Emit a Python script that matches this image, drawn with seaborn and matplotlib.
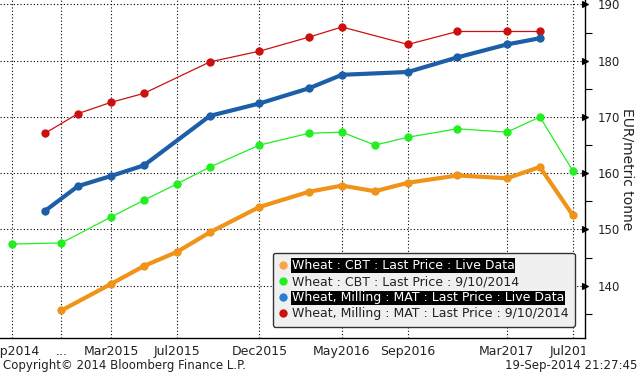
import matplotlib
matplotlib.use("Agg")
import matplotlib.pyplot as plt
import seaborn as sns
import pandas as pd
from matplotlib.lines import Line2D
from matplotlib.ticker import FixedLocator, MultipleLocator
from matplotlib.transforms import Bbox, TransformedBbox

# Contract months for each exchange
cbt_months = ["Sep2014", "Dec2014", "Mar2015", "May2015", "Jul2015", "Sep2015", "Dec2015",
              "Mar2016", "May2016", "Jul2016", "Sep2016", "Dec2016", "Mar2017", "May2017", "Jul2017"]
mat_months = ["Nov2014", "Jan2015", "Mar2015", "May2015", "Sep2015", "Dec2015",
              "Mar2016", "May2016", "Sep2016", "Dec2016", "Mar2017", "May2017"]

# EUR/metric tonne
cbt_live = [135.6, 140.3, 143.5, 146.0, 149.5, 154.0, 156.7, 157.8, 156.8, 158.3, 159.6, 159.1, 161.1, 152.5]
cbt_0910 = [147.4, 147.6, 152.2, 155.2, 158.1, 161.1, 165.0, 167.1, 167.3, 165.0, 166.4, 167.9, 167.3, 170.0, 160.4]
mat_live = [153.3, 157.7, 159.5, 161.4, 170.2, 172.4, 175.1, 177.5, 178.0, 180.6, 182.9, 184.0]
mat_0910 = [167.1, 170.6, 172.6, 174.2, 179.8, 181.7, 184.2, 186.0, 182.9, 185.2, 185.2, 185.2]

tick_months = ["Sep2014", "Dec2014", "Mar2015", "Jul2015", "Dec2015", "May2016", "Sep2016", "Mar2017", "Jul2017"]
tick_labels = ["Sep2014", "...", "Mar2015", "Jul2015", "Dec2015", "May2016", "Sep2016", "Mar2017", "Jul2017"]

series_names = ["Wheat : CBT : Last Price : Live Data",
                "Wheat : CBT : Last Price : 9/10/2014",
                "Wheat, Milling : MAT : Last Price : Live Data",
                "Wheat, Milling : MAT : Last Price : 9/10/2014"]


def month_index(labels):
    d = pd.to_datetime(pd.Series(labels), format="%b%Y")
    return ((d.dt.year - 2014) * 12 + d.dt.month - 9).tolist()


sns.set_style("white")
plt.rcParams["font.family"] = ["DejaVu Sans"]

fig = plt.figure(figsize=(6.4, 3.74), dpi=100)
ax = fig.add_axes([0.0, 0.0963, 0.914, 0.9037])

sns.lineplot(x=month_index(mat_months), y=mat_0910, ax=ax, color="#cc1010", linewidth=0.9,
             marker="o", markersize=6, markeredgewidth=0)
sns.lineplot(x=month_index(cbt_months), y=cbt_0910, ax=ax, color="#22ee22", linewidth=0.9,
             marker="o", markersize=6, markeredgewidth=0)
sns.lineplot(x=month_index(mat_months), y=mat_live, ax=ax, color="#1c5ea8", linewidth=3,
             marker="o", markersize=6, markeredgewidth=0)
sns.lineplot(x=month_index(cbt_months[1:]), y=cbt_live, ax=ax, color="#ef9418", linewidth=3,
             marker="o", markersize=6, markeredgewidth=0)

ax.set_xlim(-0.727, 34.73)
ax.set_ylim(130.7, 190.8)

# x axis
ax.xaxis.set_major_locator(FixedLocator(month_index(tick_months)))
ax.set_xticklabels(tick_labels, fontsize=9, color="#222222")
ax.tick_params(axis="x", length=0, pad=5)
clip = TransformedBbox(Bbox([[0, 0], [0.914, 0.1]]), fig.transFigure)
for lab in ax.get_xticklabels():
    lab.set_clip_box(clip)
    lab.set_clip_on(True)

# y axis on the right
ax.yaxis.tick_right()
ax.yaxis.set_label_position("right")
ax.yaxis.set_minor_locator(MultipleLocator(5))
ax.set_yticks([140, 150, 160, 170, 180, 190])
ax.tick_params(axis="y", which="major", labelsize=8.5, labelcolor="#222222", length=0, pad=9)
ax.tick_params(axis="y", which="minor", length=5, width=0.8, color="black", direction="out")
for t in ax.yaxis.get_major_ticks():
    t.tick2line.set_marker(">")
    t.tick2line.set_markersize(5)
    t.tick2line.set_markerfacecolor("black")
    t.tick2line.set_markeredgecolor("black")
    t.tick2line.set_visible(True)
ax.set_ylabel("EUR/metric tonne", rotation=270, fontsize=10, color="#222222",
              va="center", ha="center")
ax.yaxis.set_label_coords(628 / 585, 0.5)

ax.grid(True, which="major", color="black", linestyle=(0, (1, 2)), linewidth=0.8)
for s in ["top", "left"]:
    ax.spines[s].set_visible(False)
for s in ["right", "bottom"]:
    ax.spines[s].set_color("black")
    ax.spines[s].set_linewidth(1)

handle_colors = ["#f7a545", "#22ee22", "#2a7ed2", "#cc1010"]
handles = [Line2D([], [], marker="o", linestyle="", color=c, markersize=6, markeredgewidth=0)
           for c in handle_colors]
leg = ax.legend(handles, series_names, loc="lower right", bbox_to_anchor=(0.993, 0.015),
                fontsize=9, frameon=True, fancybox=True, framealpha=1,
                facecolor="#f0f0f0", edgecolor="#333333", handlelength=0.6,
                handletextpad=0.4, labelspacing=0.25, borderpad=0.5)
for i, txt in enumerate(leg.get_texts()):
    if "Live" in txt.get_text():
        txt.set_color("white")
        txt.set_bbox(dict(facecolor="black", edgecolor="none", pad=0.5))
    else:
        txt.set_color("#222222")

fig.text(0.004, 0.022, "Copyright\u00a9 2014 Bloomberg Finance L.P.", fontsize=8.5,
         va="center", ha="left", color="#222222")
fig.text(0.996, 0.022, "19-Sep-2014 21:27:45", fontsize=8.5, va="center", ha="right",
         color="#222222")

fig.savefig("out.png", dpi=100)
